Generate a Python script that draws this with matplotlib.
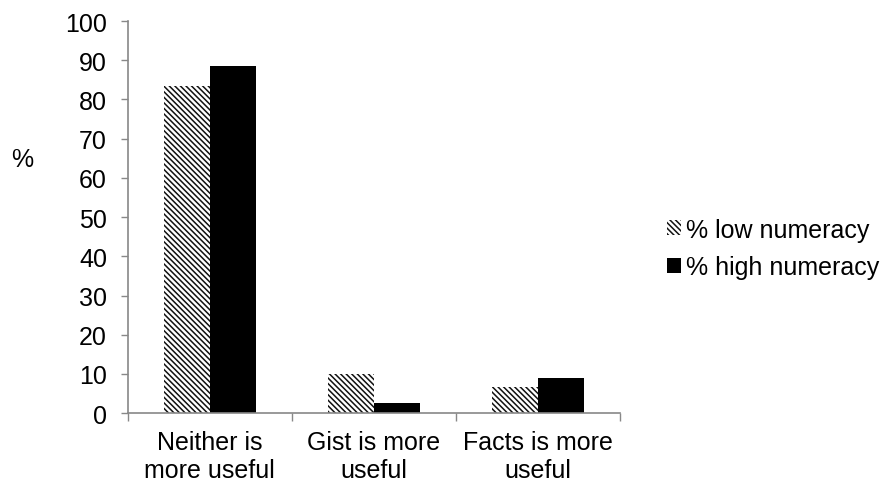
import matplotlib
matplotlib.use("Agg")
import matplotlib.pyplot as plt
import numpy as np

categories = ["Neither is\nmore useful", "Gist is more\nuseful", "Facts is more\nuseful"]
low_numeracy = [83.3, 9.9, 6.7]
high_numeracy = [88.4, 2.5, 9.0]
series_names = ["% low numeracy", "% high numeracy"]
yticks = [0, 10, 20, 30, 40, 50, 60, 70, 80, 90, 100]

plt.rcParams['font.family'] = ['Liberation Sans', 'DejaVu Sans']
plt.rcParams['hatch.linewidth'] = 1.1
plt.rcParams['hatch.color'] = '#111111'

FS = 18

fig = plt.figure(figsize=(8.88, 4.89), dpi=100)
ax = fig.add_axes([0.144, 0.153, 0.554, 0.802])

x = np.arange(len(categories))
w = 0.28
b1 = ax.bar(x - w/2, low_numeracy, w, color='white', edgecolor='#111111', hatch='\\\\\\\\\\\\', linewidth=0, label=series_names[0])
b2 = ax.bar(x + w/2, high_numeracy, w, color='black', edgecolor='black', linewidth=0, label=series_names[1])

ax.set_xlim(-0.5, 2.5)
ax.set_ylim(0, 100)
ax.set_yticks(yticks)
ax.set_xticks(x)
ax.set_xticklabels(categories, fontsize=FS)
ax.set_xticks([-0.5, 0.5, 1.5, 2.5], minor=True)
ax.tick_params(axis='x', which='major', length=0, pad=12)
ax.tick_params(axis='x', which='minor', length=6, color='#888888', width=1)
ax.tick_params(axis='y', length=5, color='#888888', width=1, labelsize=FS, pad=10)
for s in ['top', 'right']:
    ax.spines[s].set_visible(False)
for s in ['left', 'bottom']:
    ax.spines[s].set_color('#888888')
    ax.spines[s].set_linewidth(1.2)

fig.text(22/888, 1 - 160/489, "%", fontsize=FS, ha='center', va='center')

leg = ax.legend(loc='center left', bbox_to_anchor=(1.076, 0.42), frameon=False, fontsize=FS,
                handlelength=0.55, handleheight=0.55, handletextpad=0.2, labelspacing=0.55,
                borderaxespad=0)

fig.savefig("out.png", dpi=100)
